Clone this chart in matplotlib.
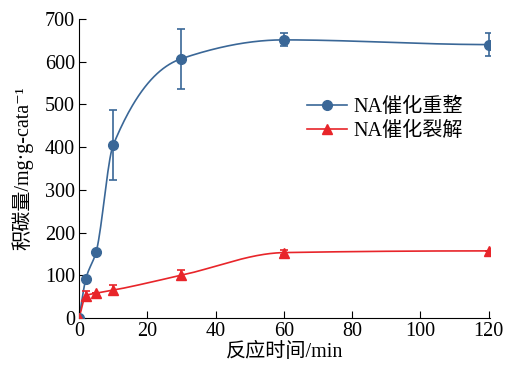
import numpy as np
import matplotlib
matplotlib.use("Agg")
import matplotlib.pyplot as plt

plt.rcParams['font.family'] = ['Liberation Serif', 'Noto Sans CJK SC', 'DejaVu Sans']

# data
time = [0, 2, 5, 10, 30, 60, 120]
reform = [0, 92, 155, 405, 607, 651, 640]
reform_err = [0, 0, 0, 82, 70, 15, 27]
crack = [0, 52, 58, 65, 100, 153, 157]
crack_err = [0, 10, 0, 12, 12, 6, 0]

blue = '#3a6797'
red = '#e8252a'


def smooth(x, y, n=400):
    # monotone cubic (pchip) line through the points
    x = np.asarray(x, float)
    y = np.asarray(y, float)
    h = np.diff(x)
    d = np.diff(y) / h
    m = np.zeros_like(y)
    for i in range(1, len(x) - 1):
        if d[i - 1] * d[i] > 0:
            w1 = 2 * h[i] + h[i - 1]
            w2 = h[i] + 2 * h[i - 1]
            m[i] = (w1 + w2) / (w1 / d[i - 1] + w2 / d[i])
    m[0] = d[0]
    xs = np.linspace(x[0], x[-1], n)
    idx = np.clip(np.searchsorted(x, xs) - 1, 0, len(x) - 2)
    t = (xs - x[idx]) / h[idx]
    h00 = 2 * t**3 - 3 * t**2 + 1
    h10 = t**3 - 2 * t**2 + t
    h01 = -2 * t**3 + 3 * t**2
    h11 = t**3 - t**2
    ys = h00 * y[idx] + h10 * h[idx] * m[idx] + h01 * y[idx + 1] + h11 * h[idx] * m[idx + 1]
    return xs, ys


fig = plt.figure(figsize=(5.07, 3.68), dpi=100)
ax = fig.add_axes([0.156, 0.136, 0.811, 0.8125])

xs, ys = smooth(time, reform)
ax.plot(xs, ys, color=blue, lw=1.2)
ax.errorbar(time, reform, yerr=reform_err, fmt='o', color=blue, ms=7,
            capsize=3, elinewidth=1.2, capthick=1.2, zorder=3)
xs, ys = smooth(time, crack)
ax.plot(xs, ys, color=red, lw=1.2)
ax.errorbar(time, crack, yerr=crack_err, fmt='^', color=red, ms=7,
            capsize=3, elinewidth=1.2, capthick=1.2, zorder=3)

# legend handles
ax.plot([], [], color=blue, lw=1.2, marker='o', ms=7, label='NA催化重整')
ax.plot([], [], color=red, lw=1.2, marker='^', ms=7, label='NA催化裂解')
ax.legend(loc='upper left', bbox_to_anchor=(0.53, 0.77), frameon=False,
          fontsize=14.5, handlelength=2.0, handletextpad=0.3, labelspacing=0.25,
          borderpad=0)

ax.set_xlim(0, 120.5)
ax.set_ylim(0, 700)
ax.set_xticks(range(0, 121, 20))
ax.set_yticks(range(0, 701, 100))
ax.spines['top'].set_visible(False)
ax.spines['right'].set_visible(False)
ax.tick_params(direction='in', length=5, labelsize=14.5, pad=3)

ax.set_xlabel('反应时间/min', fontsize=14.5, labelpad=1)
ax.set_ylabel('积碳量/mg·g-cata⁻¹', fontsize=14.5, labelpad=8)

fig.savefig('out.png', dpi=100)
